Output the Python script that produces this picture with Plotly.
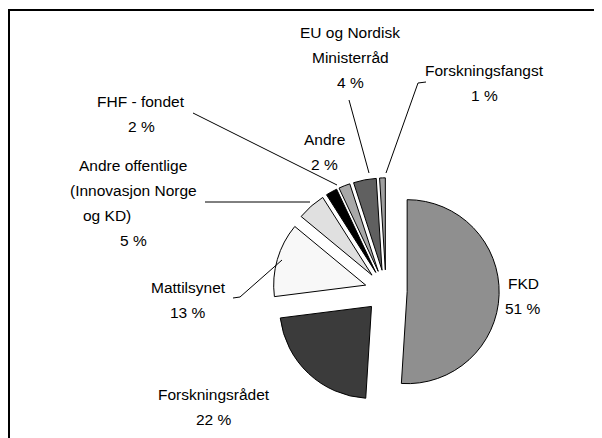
import plotly.graph_objects as go

# finansieringskilder, andel i prosent
names = ["FKD", "Forskningsrådet", "Mattilsynet",
         "Andre offentlige (Innovasjon Norge og KD)", "FHF - fondet",
         "Andre", "EU og Nordisk Ministerråd", "Forskningsfangst"]
values = [51, 22, 13, 5, 2, 2, 4, 1]
label_lines = [["FKD"], ["Forskningsrådet"], ["Mattilsynet"],
               ["Andre offentlige", "(Innovasjon Norge", "og KD)" + "\u00a0" * 12],
               ["FHF - fondet"], ["Andre"], ["EU og Nordisk", "Ministerråd"],
               ["Forskningsfangst"]]
colors = ["#8f8f8f", "#3b3b3b", "#f8f8f8", "#e0e0e0", "#000000",
          "#a8a8a8", "#606060", "#a0a0a0"]

# page body has an 8px margin, so the figure is drawn 8px in
OFF = 8
W, H = 602 - OFF, 438 - OFF
FONT = "Liberation Sans, Arial, sans-serif"

# label centres and leader lines, in screen px of the 602x438 window
label_pos = [(523, 296), (214, 407), (188, 300), (133, 203),
             (141, 114), (324, 152), (350, 58), (484, 83)]
leaders = [None, None, [(233, 298), (240, 297), (282, 260)],
           [(205, 202), (310, 202)], [(193, 113), (337, 185)], None,
           [(349, 100), (369, 173)], [(426, 82), (418, 83), (386, 173)]]


def px(x):
    return (x - OFF) / W


def py(y):
    return 1 - (y - OFF) / H


cx, cy, r, pull = 386, 291, 92, 0.23
half = r * (1 + pull)

fig = go.Figure(go.Pie(
    labels=names, values=values, sort=False, direction="clockwise",
    rotation=0, pull=[pull] * len(values), textinfo="none",
    marker=dict(colors=colors, line=dict(color="#000000", width=1)),
    domain=dict(x=[px(cx - half), px(cx + half)],
                y=[py(cy + half), py(cy - half)]),
    hoverinfo="label+percent",
))

annotations = []
for lines, v, (x, y) in zip(label_lines, values, label_pos):
    allines = lines + [f"{v} %"]
    n = len(allines)
    for i, t in enumerate(allines):
        annotations.append(dict(
            x=px(x), y=py(y + (i - (n - 1) / 2) * 25), xref="paper", yref="paper",
            text=t, showarrow=False, xanchor="center", yanchor="middle",
            font=dict(family=FONT, size=15.5, color="#000000")))

shapes = [dict(type="rect", xref="paper", yref="paper",
               x0=px(9), y0=py(438 + 10), x1=px(602 + 10), y1=py(10),
               line=dict(color="#000000", width=2))]
for pts in leaders:
    if pts:
        path = "M " + " L ".join(f"{px(a)},{py(b)}" for a, b in pts)
        shapes.append(dict(type="path", xref="paper", yref="paper", path=path,
                           line=dict(color="#000000", width=1)))

fig.update_layout(
    width=W, height=H, margin=dict(l=0, r=0, t=0, b=0),
    paper_bgcolor="#ffffff", plot_bgcolor="#ffffff",
    showlegend=False, annotations=annotations, shapes=shapes,
)

fig.write_html("out.html")
